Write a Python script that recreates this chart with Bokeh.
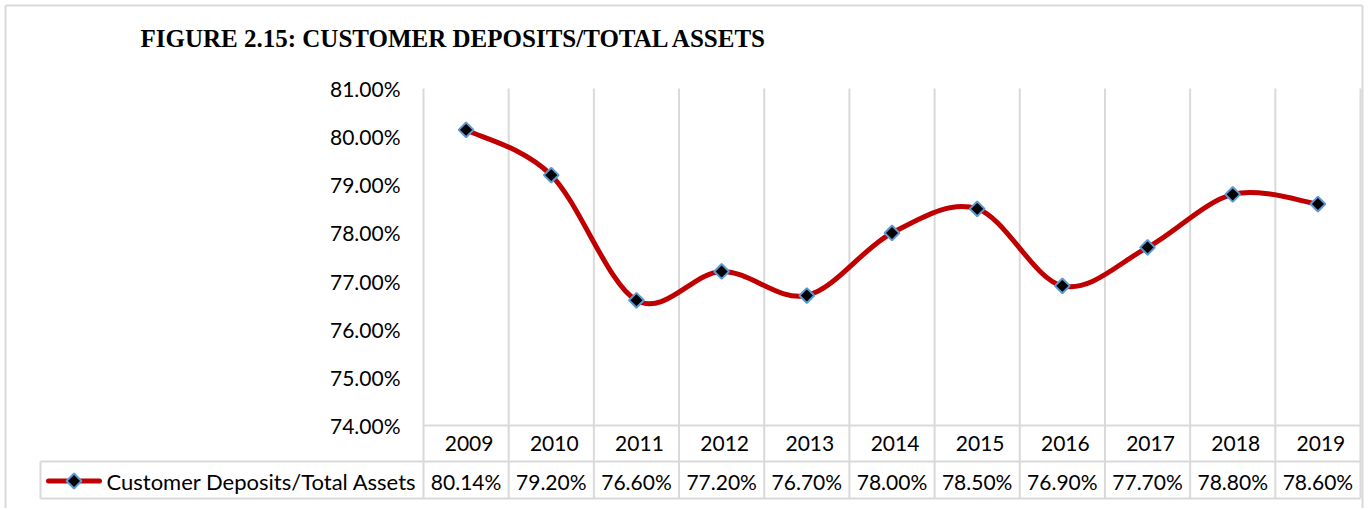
import math
from bokeh.plotting import figure
from bokeh.models import Range1d
from bokeh.core.properties import value
from bokeh.embed import file_html
from bokeh.resources import INLINE

# ---- data ----
years = ["2009", "2010", "2011", "2012", "2013", "2014", "2015", "2016", "2017", "2018", "2019"]
ratio = [80.14, 79.20, 76.60, 77.20, 76.70, 78.00, 78.50, 76.90, 77.70, 78.80, 78.60]
series_name = "Customer Deposits/Total Assets"
y_ticks = [74, 75, 76, 77, 78, 79, 80, 81]
title_text = "FIGURE 2.15: CUSTOMER DEPOSITS/TOTAL ASSETS"

# ---- style ----
RED = "#c00000"
GRID = "#d9d9d9"
MARK_LINE = "#5b9bd5"
BODY_FONT = "Lato"
BODY_SIZE = "21px"

n = len(years)
xs = list(range(1, n + 1))

# ---- layout geometry (pixels on the canvas) ----
W, H = 1365, 508
PLOT_L, PLOT_R = 423, 1360        # first / last category column edges
Y81, Y74 = 88, 425                # pixel rows of the 81% and 74% levels
LEG_L = 40                        # legend cell left edge
ROW_DIV, ROW_END = 461, 498       # table row divider / bottom line
BOX = 5                           # outer chart border inset
k = (Y74 - Y81) / 7.0             # px per 1%
cat_w = (PLOT_R - PLOT_L) / n     # px per category

def xd(px):  # canvas px -> data x
    return 1 + (px - (PLOT_L + cat_w / 2)) / cat_w

def yd(py):  # canvas px -> data y
    return 74.0 + (Y74 - py) / k

p = figure(width=W, height=H, output_backend="svg", toolbar_location=None, title=None,
           x_axis_location=None, y_axis_location=None,
           x_range=Range1d(xd(0), xd(W)), y_range=Range1d(yd(H), yd(0)),
           min_border=0, min_border_left=0, min_border_right=0,
           min_border_top=0, min_border_bottom=0)
p.xgrid.visible = False
p.ygrid.visible = False
p.outline_line_color = None
p.background_fill_color = "white"
p.border_fill_color = "white"

# outer chart border (open at the bottom, as in the cropped reference)
p.segment(x0=[xd(BOX), xd(BOX), xd(W - 3)], y0=[yd(H), yd(BOX), yd(H)],
          x1=[xd(BOX), xd(W - 3), xd(W - 3)], y1=[yd(BOX), yd(BOX), yd(BOX)],
          line_color=GRID, line_width=2)

# title
p.text(x=[xd(140)], y=[yd(38)], text=[title_text], text_align="left",
       text_baseline="middle", text_font=value("Liberation Serif"),
       text_font_style="bold", text_font_size="25px", text_color="black")

# y tick labels
p.text(x=[xd(PLOT_L)] * len(y_ticks), y=y_ticks, text=[f"{t:.2f}%" for t in y_ticks],
       text_align="right", text_baseline="middle", x_offset=-23,
       text_font=value(BODY_FONT), text_font_size=BODY_SIZE, text_color="black")

# vertical category boundaries running through the table
bx = [i + 0.5 for i in range(n + 1)]
p.segment(x0=bx, y0=[yd(ROW_END)] * len(bx), x1=bx, y1=[81] * len(bx),
          line_color=GRID, line_width=2)
# horizontal table lines (the two lower ones also frame the legend cell)
p.segment(x0=[0.5, xd(LEG_L), xd(LEG_L)], y0=[74.0, yd(ROW_DIV), yd(ROW_END)],
          x1=[n + 0.5] * 3, y1=[74.0, yd(ROW_DIV), yd(ROW_END)],
          line_color=GRID, line_width=2)
# left edge of the legend cell
p.segment(x0=[xd(LEG_L)], y0=[yd(ROW_DIV)], x1=[xd(LEG_L)], y1=[yd(ROW_END)],
          line_color=GRID, line_width=2)

# smoothed line (Catmull-Rom -> cubic Bezier, like Excel's smoothed line)
P = list(zip(xs, ratio))
x0s, y0s, x1s, y1s, cx0s, cy0s, cx1s, cy1s = [], [], [], [], [], [], [], []
for i in range(n - 1):
    pm = P[i - 1] if i > 0 else P[i]
    p0 = P[i]
    p1 = P[i + 1]
    pp = P[i + 2] if i + 2 < n else P[i + 1]
    x0s.append(p0[0]); y0s.append(p0[1])
    x1s.append(p1[0]); y1s.append(p1[1])
    cx0s.append(p0[0] + (p1[0] - pm[0]) / 6.0)
    cy0s.append(p0[1] + (p1[1] - pm[1]) / 6.0)
    cx1s.append(p1[0] - (pp[0] - p0[0]) / 6.0)
    cy1s.append(p1[1] - (pp[1] - p0[1]) / 6.0)
p.bezier(x0=x0s, y0=y0s, x1=x1s, y1=y1s, cx0=cx0s, cy0=cy0s, cx1=cx1s, cy1=cy1s,
         line_color=RED, line_width=5, line_cap="round")
p.scatter(xs, ratio, marker="square", angle=math.pi / 4, size=10.5,
          fill_color="black", line_color=MARK_LINE, line_width=2)

# data table texts
p.text(x=xs, y=[yd((Y74 + ROW_DIV) / 2)] * n, text=years, text_align="center",
       text_baseline="middle", text_font=value(BODY_FONT), text_font_size=BODY_SIZE,
       text_color="black", x_offset=3)
p.text(x=xs, y=[yd((ROW_DIV + ROW_END) / 2 + 1)] * n, text=[f"{v:.2f}%" for v in ratio],
       text_align="center", text_baseline="middle", text_font=value(BODY_FONT),
       text_font_size=BODY_SIZE, text_color="black")

# legend key of the data table: line swatch with marker, then the series name
leg_y = yd((ROW_DIV + ROW_END) / 2 + 1)
p.segment(x0=[xd(48)], y0=[leg_y], x1=[xd(99)], y1=[leg_y],
          line_color=RED, line_width=5, line_cap="round")
p.scatter([xd(73.5)], [leg_y], marker="square", angle=math.pi / 4, size=10.5,
          fill_color="black", line_color=MARK_LINE, line_width=2)
p.text(x=[xd(106)], y=[leg_y], text=[series_name], text_align="left",
       text_baseline="middle", text_font=value(BODY_FONT), text_font_size="22px",
       text_color="black")

open("out.html", "w").write(file_html(p, INLINE))
